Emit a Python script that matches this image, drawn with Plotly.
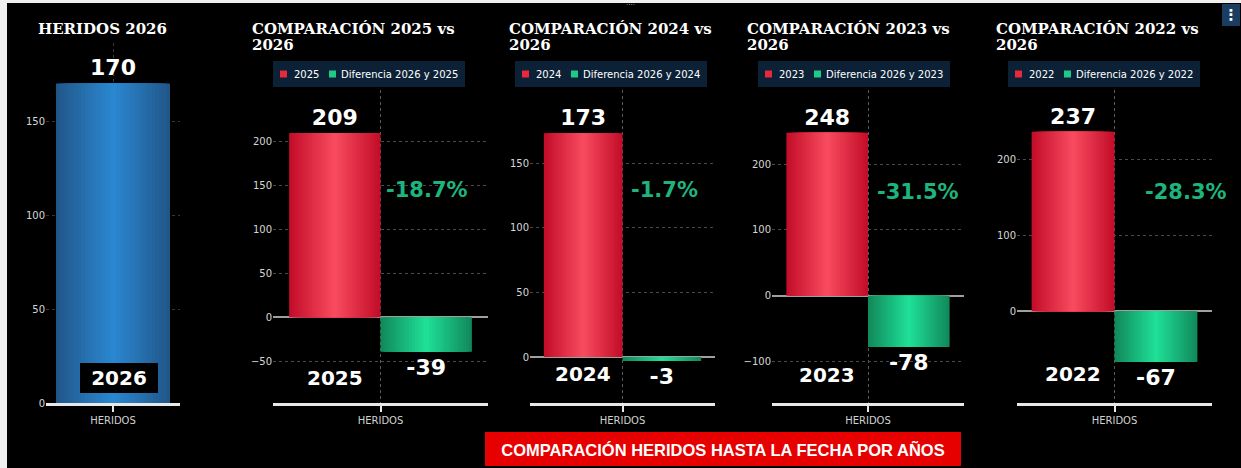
import plotly.graph_objects as go

W, H = 1241, 468

# ---------------- data ----------------
category = ["HERIDOS"]
current_year = "2026"
current_value = 170
compare_years = ["2025", "2024", "2023", "2022"]
compare_values = [209, 173, 248, 237]
diff_values = [-39, -3, -78, -67]
pct_labels = ["-18.7%", "-1.7%", "-31.5%", "-28.3%"]
main_ticks = [0, 50, 100, 150]
compare_ticks = [[-50, 0, 50, 100, 150, 200], [0, 50, 100, 150], [-100, 0, 100, 200], [0, 100, 200]]
banner_text = "COMPARACIÓN HERIDOS HASTA LA FECHA POR AÑOS"

# ---------------- layout config (pixels) ----------------
main_px = dict(x0=46, x1=180, top=43, bottom=403, yrange=[0, 191.5])
cmp_px = [
    dict(x0=273, x1=488, yrange=[-97.6, 257.9], title_x=250, pct_x=427, pct_y=190, lab_y=378),
    dict(x0=530, x1=715, yrange=[-35.8, 206.5], title_x=507, pct_x=664, pct_y=190, lab_y=374),
    dict(x0=772, x1=964, yrange=[-163.8, 313.0], title_x=745, pct_x=918, pct_y=192, lab_y=374.5),
    dict(x0=1017, x1=1212, yrange=[-121.7, 292.3], title_x=994, pct_x=1186, pct_y=192, lab_y=374),
]
cmp_top, cmp_bottom = 90, 403.3
legend_left = [273, 515, 758, 1008]
legend_top, legend_h, legend_w = 61, 26, 192

RED_EDGE, RED_MID = (196, 14, 42), (247, 74, 94)
GREEN_EDGE, GREEN_MID = (17, 138, 92), (31, 222, 150)
BLUE_EDGE, BLUE_MID = (33, 88, 138), (42, 134, 208)
LEG_RED, LEG_GREEN = "#e8283c", "#1ec98a"
N = 16

NUM_FONT = "DejaVu Sans"
TITLE_FONT = "DejaVu Serif"


def fx(px):
    return px / W


def fy(px):
    return 1 - px / H


def lerp(c1, c2, t):
    return "rgb(%d,%d,%d)" % tuple(round(a + (b - a) * t) for a, b in zip(c1, c2))


fig = go.Figure()


def add_gradient_bar(value, center, width, edge, mid, xa, ya, name, text):
    for k in range(N):
        t = k / (N - 1)
        w = width * (1 - k / N)
        fig.add_trace(go.Bar(
            x=category, y=[value], width=[w], offset=[center - w / 2],
            marker=dict(color=lerp(edge, mid, t), line=dict(width=0)),
            xaxis=xa, yaxis=ya, name=name, showlegend=False,
            text=[text] if k == 0 else None,
            textposition="outside" if k == 0 else "none",
            constraintext="none", cliponaxis=False,
            textfont=dict(family=NUM_FONT, size=22, color="white", weight="bold"),
            hoverinfo="skip"))


# main panel
add_gradient_bar(current_value, 0, 0.85, BLUE_EDGE, BLUE_MID, "x", "y", current_year, str(current_value))

for i, (yr, v, d) in enumerate(zip(compare_years, compare_values, diff_values)):
    xa, ya = "x%d" % (i + 2), "y%d" % (i + 2)
    add_gradient_bar(v, -0.2125, 0.425, RED_EDGE, RED_MID, xa, ya, yr, str(v))
    add_gradient_bar(d, 0.2125, 0.425, GREEN_EDGE, GREEN_MID, xa, ya,
                     "Diferencia %s y %s" % (current_year, yr), str(d))

axis_common_x = dict(type="category", range=[-0.5, 0.5], showline=True, linecolor="#e8e8e8", linewidth=2.5,
                     ticks="outside", ticklen=6, tickwidth=1.5, tickcolor="#e8e8e8",
                     tickfont=dict(family="DejaVu Sans", size=10, color="#d0d0d0"),
                     showgrid=True, gridcolor="#5a5a5a", griddash="dot", gridwidth=1,
                     zeroline=False, fixedrange=True, automargin=False)
axis_common_y = dict(showgrid=True, gridcolor="#4a4a4a", griddash="dot", gridwidth=1,
                     zeroline=True, zerolinecolor="#a0a0a0", zerolinewidth=1.5,
                     showline=False, ticks="", tickfont=dict(family="DejaVu Sans", size=10, color="#d6d6d6"),
                     fixedrange=True, automargin=False)

layout = dict(
    width=W, height=H, margin=dict(l=0, r=0, t=0, b=0, autoexpand=False),
    paper_bgcolor="#000000", plot_bgcolor="#000000",
    barmode="overlay", showlegend=False, hovermode=False,
    font=dict(family="DejaVu Sans", color="white"),
)
layout["xaxis"] = dict(axis_common_x, domain=[fx(main_px["x0"]), fx(main_px["x1"])], anchor="y",
                       layer="above traces", gridcolor="rgba(210,210,210,0.28)")
layout["yaxis"] = dict(axis_common_y, domain=[fy(main_px["bottom"]), fy(main_px["top"])], anchor="x",
                       range=main_px["yrange"], tickvals=main_ticks, zeroline=False,
                       layer="above traces", gridcolor="rgba(210,210,210,0.25)")
for i, p in enumerate(cmp_px):
    n = i + 2
    layout["xaxis%d" % n] = dict(axis_common_x, domain=[fx(p["x0"]), fx(p["x1"])], anchor="y%d" % n)
    layout["yaxis%d" % n] = dict(axis_common_y, domain=[fy(cmp_bottom), fy(cmp_top)], anchor="x%d" % n,
                                 range=p["yrange"], tickvals=compare_ticks[i])

fig.update_layout(**layout)

# background strips (light border at left/top)
fig.add_shape(type="rect", xref="paper", yref="paper", x0=0, x1=fx(7), y0=0, y1=1,
              fillcolor="#f0f0f0", line=dict(width=0), layer="below")
fig.add_shape(type="rect", xref="paper", yref="paper", x0=0, x1=1, y0=fy(3), y1=1,
              fillcolor="#f0f0f0", line=dict(width=0), layer="below")

# legends (one per comparison panel)
leg_font = dict(family="DejaVu Sans", size=10, color="white")
for i, yr in enumerate(compare_years):
    L = legend_left[i]
    fig.add_shape(type="rect", xref="paper", yref="paper", x0=fx(L), x1=fx(L + legend_w),
                  y0=fy(legend_top + legend_h), y1=fy(legend_top), fillcolor="#0c2136",
                  line=dict(width=0), layer="above")
    cy = legend_top + legend_h / 2
    for sx, col in ((L + 7, LEG_RED), (L + 56, LEG_GREEN)):
        fig.add_shape(type="rect", xref="paper", yref="paper", x0=fx(sx), x1=fx(sx + 7),
                      y0=fy(cy + 3.5), y1=fy(cy - 3.5), fillcolor=col, line=dict(width=0), layer="above")
    fig.add_annotation(text=yr, xref="paper", yref="paper", x=fx(L + 19), y=fy(cy),
                       xanchor="left", yanchor="middle", showarrow=False, font=leg_font)
    fig.add_annotation(text="Diferencia %s y %s" % (current_year, yr), xref="paper", yref="paper",
                       x=fx(L + 66), y=fy(cy), xanchor="left", yanchor="middle", showarrow=False, font=leg_font)

# titles
title_font = dict(family=TITLE_FONT, size=15, color="white", weight="bold")
fig.add_annotation(text="HERIDOS " + current_year, xref="paper", yref="paper", x=fx(36), y=fy(28.5),
                   xanchor="left", yanchor="middle", showarrow=False, font=title_font)
for i, (yr, p) in enumerate(zip(compare_years, cmp_px)):
    fig.add_annotation(text="COMPARACIÓN %s vs" % yr, xref="paper", yref="paper", x=fx(p["title_x"]), y=fy(28.5),
                       xanchor="left", yanchor="middle", showarrow=False, font=title_font)
    fig.add_annotation(text=current_year, xref="paper", yref="paper", x=fx(p["title_x"]), y=fy(45.5),
                       xanchor="left", yanchor="middle", showarrow=False, font=title_font)
    # percentage
    fig.add_annotation(text=pct_labels[i], xref="paper", yref="paper", x=fx(p["pct_x"]), y=fy(p["pct_y"]),
                       xanchor="center", yanchor="middle", showarrow=False,
                       font=dict(family=NUM_FONT, size=21, color="#1db57d", weight="bold"))
    # year label under red bar
    fig.add_annotation(text=yr, xref="x%d" % (i + 2), yref="paper", x=-0.2125, y=fy(p["lab_y"]),
                       xanchor="center", yanchor="middle", showarrow=False,
                       font=dict(family=NUM_FONT, size=20, color="white", weight="bold"))

# 2026 label box in main panel
fig.add_annotation(text=current_year, xref="x", yref="paper", x=0, xshift=6, y=fy(378),
                   xanchor="center", yanchor="middle", showarrow=False,
                   bgcolor="#000000", width=68, height=20, borderpad=5, borderwidth=0,
                   font=dict(family=NUM_FONT, size=20, color="white", weight="bold"))

# banner
fig.add_annotation(text=banner_text, xref="paper", yref="paper", x=fx(723), y=fy(449),
                   xanchor="center", yanchor="middle", showarrow=False,
                   bgcolor="#e60000", width=466, height=24, borderpad=5, borderwidth=0,
                   font=dict(family="Liberation Sans", size=16.5, color="white", weight="bold"))

# small ui marks
fig.add_annotation(text="⋮", xref="paper", yref="paper", x=fx(1231), y=fy(15),
                   xanchor="center", yanchor="middle", showarrow=False,
                   bgcolor="#1b3d62", width=12, height=16, borderpad=3, borderwidth=0,
                   font=dict(family="DejaVu Sans", size=15, color="white", weight="bold"))
fig.add_annotation(text="····", xref="paper", yref="paper", x=fx(630), y=fy(5),
                   xanchor="center", yanchor="middle", showarrow=False,
                   font=dict(family="DejaVu Sans", size=7, color="#bbbbbb"))

fig.write_html("out.html", config={"displayModeBar": False},
               post_script="document.body.style.margin='0';document.body.style.overflow='hidden';")
